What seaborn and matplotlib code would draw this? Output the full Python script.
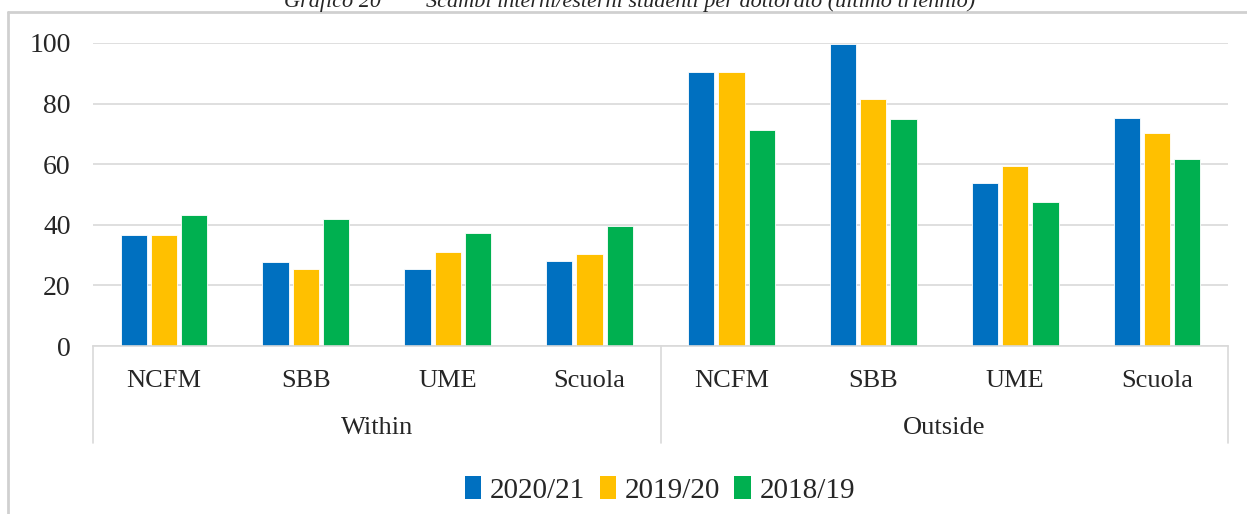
import matplotlib
matplotlib.use("Agg")
import matplotlib.pyplot as plt
import seaborn as sns
import pandas as pd
from matplotlib.lines import Line2D
from matplotlib.transforms import blended_transform_factory

groups = ["Within", "Outside"]
programs = ["NCFM", "SBB", "UME", "Scuola"]
years = ["2020/21", "2019/20", "2018/19"]
vals_2020 = [36.6, 27.7, 25.4, 28.0, 90.5, 99.8, 53.9, 75.1]
vals_2019 = [36.6, 25.4, 31.0, 30.4, 90.5, 81.5, 59.4, 70.2]
vals_2018 = [43.2, 41.9, 37.3, 39.6, 71.2, 74.8, 47.5, 61.6]
colors = ["#0070C0", "#FFC000", "#00B050"]
yticks = [0, 20, 40, 60, 80, 100]
title = "Grafico 20        Scambi interni/esterni studenti per dottorato (ultimo triennio)"

keys = [f"{g}|{p}" for g in groups for p in programs]
rows = []
for yr, vals in zip(years, [vals_2020, vals_2019, vals_2018]):
    for k, v in zip(keys, vals):
        rows.append({"key": k, "year": yr, "value": v})
df = pd.DataFrame(rows)

sns.set_theme(style="white")
plt.rcParams["font.family"] = ["Liberation Serif", "DejaVu Serif"]

fig = plt.figure(figsize=(12.47, 5.14), dpi=100)
ax = fig.add_axes([93 / 1247, 1 - 346 / 514, (1228 - 93) / 1247, (346 - 43) / 514])

sns.barplot(data=df, x="key", y="value", hue="year", order=keys, hue_order=years,
            palette=colors, width=0.64, gap=0.13, saturation=1, ax=ax,
            edgecolor="white", linewidth=0.6)

ax.set_ylim(0, 100)
ax.set_xlim(-0.5, len(keys) - 0.5)
ax.set_yticks(yticks)
ax.set_yticklabels([str(t) for t in yticks], fontsize=20, color="#262626")
ax.yaxis.grid(True, color="#d9d9d9", linewidth=1.2)
ax.set_axisbelow(True)
for s in ["left", "right", "top"]:
    ax.spines[s].set_visible(False)
ax.spines["bottom"].set_color("#d9d9d9")
ax.spines["bottom"].set_linewidth(1.2)
ax.tick_params(axis="y", length=0, pad=16)
ax.tick_params(axis="x", length=0, pad=17)
ax.set_xticks(range(len(keys)))
ax.set_xticklabels([k.split("|")[1] for k in keys], fontsize=19, color="#262626")
ax.set_xlabel("")
ax.set_ylabel("")

trans = blended_transform_factory(ax.transData, ax.transAxes)
axh = (346 - 43)
sep_bottom = -(443 - 346) / axh
for xpos in [-0.5, 3.5, 7.5]:
    ax.add_line(Line2D([xpos, xpos], [0, sep_bottom], transform=trans,
                       color="#d9d9d9", linewidth=1.2, clip_on=False))
for i, g in enumerate(groups):
    ax.text(i * 4 + 1.5, -(428 - 346) / axh, g, transform=trans, ha="center",
            va="center", fontsize=19, color="#262626")

leg = ax.get_legend()
if leg is not None:
    leg.remove()
handles = [plt.Rectangle((0, 0), 1, 1, facecolor=c, edgecolor="none") for c in colors]
fig.legend(handles, years, loc="center", bbox_to_anchor=(660 / 1247, 1 - 490 / 514),
           ncol=3, frameon=False, fontsize=21, handlelength=0.55, handleheight=0.8,
           handletextpad=0.3, columnspacing=0.5, labelcolor="#262626")

# outer chart frame
fig.add_artist(Line2D([8 / 1247, 8 / 1247], [0, 1 - 12 / 514], transform=fig.transFigure,
                      color="#d0d0d0", linewidth=2))
fig.add_artist(Line2D([8 / 1247, 1], [1 - 12 / 514, 1 - 12 / 514], transform=fig.transFigure,
                      color="#d0d0d0", linewidth=2))
fig.text(630 / 1247, 1 - 2 / 514, title, ha="center", va="center", fontsize=16,
         style="italic", color="#262626")

fig.savefig("out.png", dpi=100)
